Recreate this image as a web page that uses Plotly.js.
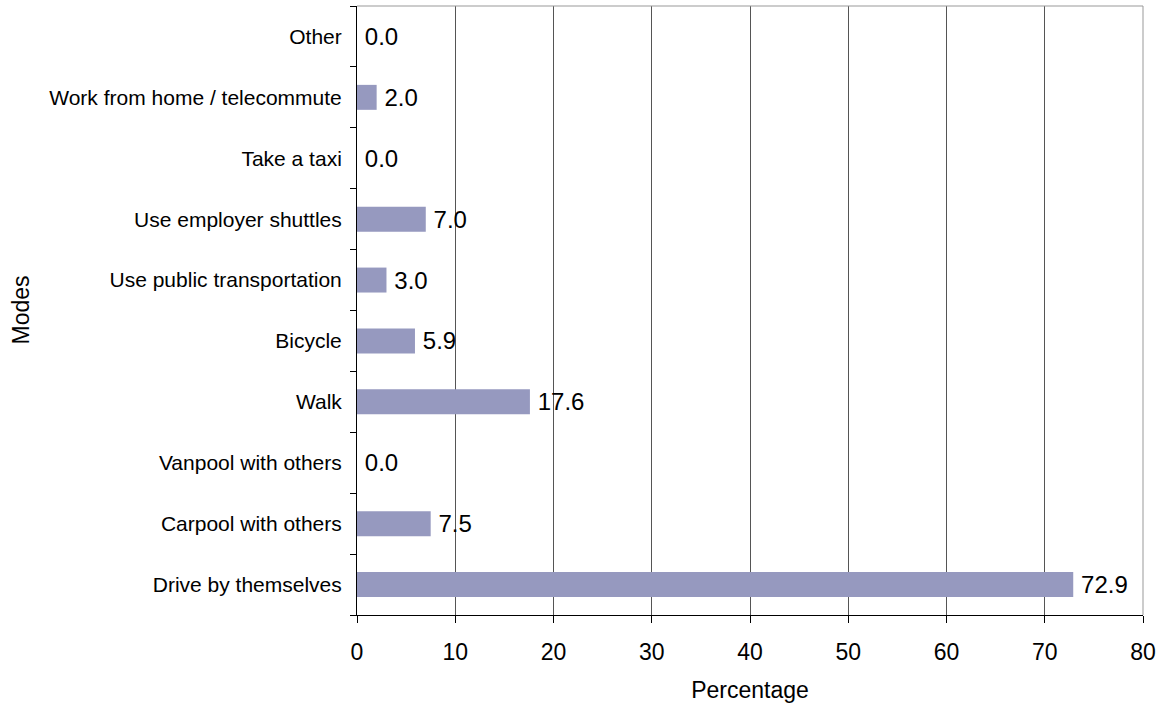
<!DOCTYPE html>
<html>
<head>
<meta charset="utf-8">
<script src="https://cdn.plot.ly/plotly-3.0.1.min.js"></script>
<style>html,body{margin:0;padding:0;background:#fff;}#chart{width:1163px;height:709px;}</style>
</head>
<body>
<div id="chart"></div>
<script>
const modes = ["Drive by themselves","Carpool with others","Vanpool with others","Walk","Bicycle","Use public transportation","Use employer shuttles","Take a taxi","Work from home / telecommute","Other"];
const percentages = [72.9, 7.5, 0.0, 17.6, 5.9, 3.0, 7.0, 0.0, 2.0, 0.0];
const xTicks = [0,10,20,30,40,50,60,70,80];

const FONT = "Liberation Sans, Arial, sans-serif";
const trace = {
  type: "bar",
  orientation: "h",
  y: modes,
  x: percentages,
  marker: {color: "#9699BF", line: {width: 0}},
  texttemplate: "\u2009%{x:.1f}",
  textposition: "outside",
  constraintext: "none",
  cliponaxis: false,
  textfont: {family: FONT, size: 24, color: "#000"},
  hoverinfo: "none"
};
const layout = {
  width: 1163, height: 709,
  margin: {l: 357, r: 20, t: 6, b: 94},
  paper_bgcolor: "#fff", plot_bgcolor: "#fff",
  font: {family: FONT, color: "#000"},
  bargap: 0.59,
  showlegend: false,
  xaxis: {
    range: [0, 80], tickvals: xTicks, ticktext: xTicks.map(String),
    showgrid: true, gridcolor: "#555", gridwidth: 1,
    zeroline: false, showline: true, linecolor: "#000", linewidth: 1,
    ticks: "outside", ticklen: 7, tickcolor: "#000",
    ticklabelstandoff: 9,
    tickfont: {size: 23, family: FONT, color: "#000"},
    title: {text: "Percentage", font: {size: 23, family: FONT, color: "#000"}, standoff: 18}
  },
  yaxis: {
    type: "category", categoryorder: "array", categoryarray: modes,
    showgrid: false, zeroline: false, showline: true, linecolor: "#000", linewidth: 1,
    ticks: "outside", ticklen: 6, tickcolor: "#000", tickson: "boundaries",
    ticklabelstandoff: 10,
    tickfont: {size: 21, family: FONT, color: "#000"}
  },
  annotations: [
    {text: "Modes", xref: "paper", yref: "paper", x: 0, y: 0.5, xanchor: "center", yanchor: "middle",
     xshift: -337, textangle: -90, showarrow: false, font: {size: 23, family: FONT, color: "#000"}}
  ],
  shapes: [
    {type: "line", xref: "paper", yref: "paper", x0: 0, x1: 1, y0: 1, y1: 1, line: {color: "#999", width: 1}, layer: "above"},
    {type: "line", xref: "paper", yref: "paper", x0: 1, x1: 1, y0: 0, y1: 1, line: {color: "#999", width: 1}, layer: "above"}
  ]
};
Plotly.newPlot("chart", [trace], layout, {staticPlot: true, displayModeBar: false});
</script>
</body>
</html>
